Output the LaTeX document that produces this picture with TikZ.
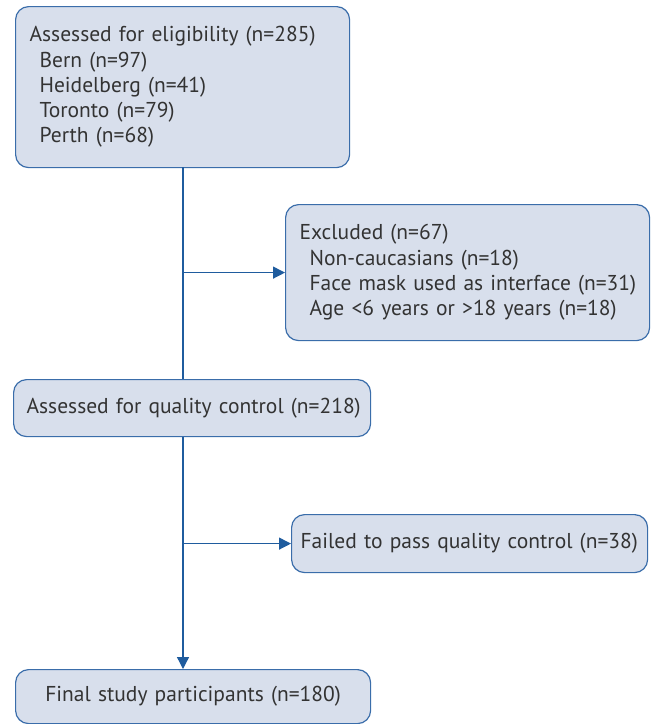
\documentclass[tikz,border=0pt]{standalone}
\usepackage{fontspec}
\setmainfont{PT Sans}
\usetikzlibrary{arrows.meta,positioning}
\definecolor{boxfill}{HTML}{D8DFEC}
\definecolor{boxline}{HTML}{3A6DAA}
\definecolor{flowline}{HTML}{1F5C9E}
\definecolor{txtgray}{HTML}{333333}

\begin{document}
\begin{tikzpicture}[
        x=1pt,y=-1pt,
        mybox/.style={
        rectangle,
        rounded corners=13pt,
        draw=boxline,
        fill=boxfill,
        line width=1.2pt,
        text=txtgray,
        anchor=north west,
        inner xsep=14pt,
        inner ysep=0pt,
        align=left,
        font=\fontsize{21.5}{25.3}\selectfont},
    myarrow/.style={-{Triangle[length=12pt,width=12pt]}},
    myline/.style={draw=flowline,line width=1.3pt}
    ]
    \useasboundingbox (0,0) rectangle (653,724);
    \node[mybox,minimum width=334pt,minimum height=161pt,text width=306pt] (elig) at (15,6)
        {Assessed for eligibility (n=285)\\
         \hspace*{10pt}Bern (n=97)\\
         \hspace*{10pt}Heidelberg (n=41)\\
         \hspace*{10pt}Toronto (n=79)\\
         \hspace*{10pt}Perth (n=68)};
    \node[mybox,minimum width=364pt,minimum height=136pt,text width=336pt] (excl) at (285,204)
        {Excluded (n=67)\\
         \hspace*{10pt}\mbox{Non-caucasians (n=18)}\\
         \hspace*{10pt}\mbox{Face mask used as interface (n=31)}\\
         \hspace*{10pt}\mbox{Age <6 years or >18 years (n=18)}};
    \node[mybox,minimum width=357pt,minimum height=57pt,text width=331pt,inner xsep=13pt] (qc) at (13,379)
        {\mbox{Assessed for quality control (n=218)}};
    \node[mybox,minimum width=356pt,minimum height=58pt,text width=338pt,inner xsep=9pt] (fail) at (291,514)
        {\mbox{Failed to pass quality control (n=38)}};
    \node[mybox,minimum width=355pt,minimum height=54pt,text width=327pt,align=center] (final) at (15,669)
        {Final study participants (n=180)};

    % main trunk and side branches
    \coordinate (top) at (183,167);
    \draw[myline] (top) -- (top |- qc.north);
    \draw[myline,myarrow] (top |- excl.west) -- (excl.west);
    \draw[myline] (top |- qc.south) -- (top |- fail.west);
    \draw[myline,myarrow] (top |- fail.west) -- (fail.west);
    \draw[myline,myarrow] (top |- fail.west) -- (top |- final.north);
\end{tikzpicture}
\end{document}
